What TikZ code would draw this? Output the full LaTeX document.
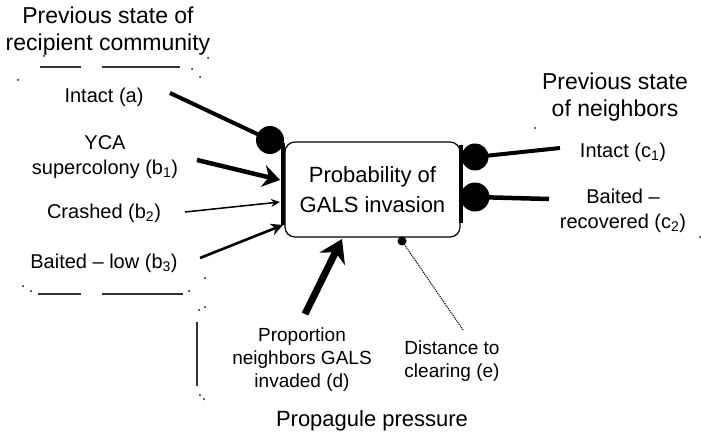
\documentclass[tikz,border=0pt]{standalone}
\usepackage{fontspec}
\setmainfont{Liberation Sans}
\usetikzlibrary{arrows.meta}
\begin{document}
\begin{tikzpicture}[x=1pt,y=-1pt,
  lbl/.style={inner sep=0pt, align=center, font=\fontsize{20}{25}\selectfont},
  ttl/.style={inner sep=0pt, align=center, font=\fontsize{23}{27}\selectfont},
  blob/.style={circle, fill=black, inner sep=0pt, minimum size=#1},
  speck/.style={circle, fill=black!70, inner sep=0pt, minimum size=2.5pt},
  brace/.style={line width=1.8pt, black!80}]
\useasboundingbox (0,0) rectangle (701,433);

% main box
\node[draw, line width=1.2pt, rounded corners=10pt, minimum width=175pt, minimum height=95pt,
      inner sep=0pt, align=center, font=\fontsize{22}{30}\selectfont] (box) at (372.5,189.5)
      {Probability of\\GALS invasion};
\draw[line width=3.2pt] (283,143) -- (283,225);
\draw[line width=3.2pt] (461,145) -- (461,223);

% left group
\node[ttl] (t1) at (108,31) {Previous state of\\recipient community};
\node[lbl] (a) at (104,97) {Intact (a)};
\node[lbl] (b1) at (105,157) {YCA\\supercolony (b\textsubscript{1})};
\node[lbl] (b2) at (104,213) {Crashed (b\textsubscript{2})};
\node[lbl] (b3) at (104,263) {Baited -- low (b\textsubscript{3})};

\draw[brace] (40,67) -- (81,67);
\draw[brace] (102,67) -- (180,67);
\draw[brace] (38,294) -- (81,294);
\draw[brace] (102,294) -- (183,294);
\draw[brace] (197,322) -- (197,386);
\foreach \p in {(44,56),(18,80),(192,69),(200,77),(208,58),(23,286),(31,291),(189,291),
                (205,278),(205,307),(199,310),(200,395),(204,399),(535,128),(700,237)}
  \node[speck] at \p {};

% left connectors
\node[blob=28pt] (cL) at (270,140) {};
\coordinate (sa) at (170,93);
\draw[line width=4pt] (sa) -- (cL.center);
\coordinate (sb1) at (197,160);
\coordinate (eb1) at (280,180);
\draw[line width=4.5pt, -{Stealth[length=17pt,width=22pt]}] (sb1) -- (eb1);
\coordinate (sb2) at (185,212);
\coordinate (eb2) at (280,202);
\draw[line width=1.5pt, -{Stealth[length=9pt,width=8pt]}] (sb2) -- (eb2);
\coordinate (sb3) at (200,258);
\coordinate (eb3) at (283,225);
\draw[line width=2.6pt, -{Stealth[length=12pt,width=12pt]}] (sb3) -- (eb3);

% right group
\node[ttl] (t2) at (615,97) {Previous state\\of neighbors};
\node[lbl] (c1) at (623,152) {Intact (c\textsubscript{1})};
\node[lbl] (c2) at (623,211) {Baited --\\recovered (c\textsubscript{2})};
\node[blob=27pt] (cR1) at (475,157) {};
\node[blob=29pt] (cR2) at (475,197) {};
\coordinate (ec1) at (560,148);
\coordinate (ec2) at (549,199);
\draw[line width=4pt] (cR1.center) -- (ec1);
\draw[line width=4.5pt] (cR2.center) -- (ec2);

% bottom group
\node[lbl, font=\fontsize{19}{23}\selectfont] (d) at (302,360) {Proportion\\neighbors GALS\\invaded (d)};
\node[lbl, font=\fontsize{19}{23}\selectfont] (e) at (452,361) {Distance to\\clearing (e)};
\node[ttl, font=\fontsize{22}{27}\selectfont] (pp) at (372,421) {Propagule pressure};
\coordinate (sd) at (305,314);
\coordinate (ed) at (342,239);
\draw[line width=7pt, -{Stealth[length=22pt,width=28pt]}] (sd) -- (ed);
\node[blob=9pt] (ce) at (402,241) {};
\coordinate (se) at (463,330);
\draw[line width=1.1pt, densely dotted] (se) -- (ce.center);
\end{tikzpicture}
\end{document}
